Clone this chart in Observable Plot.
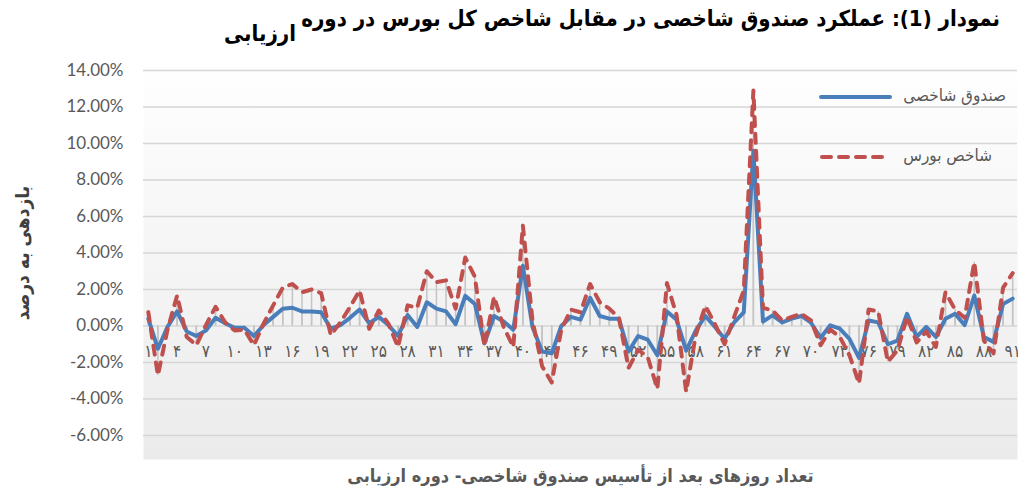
<!DOCTYPE html>
<html><head><meta charset="utf-8">
<script src="https://cdn.jsdelivr.net/npm/d3@7"></script>
<script src="https://cdn.jsdelivr.net/npm/@observablehq/plot@0.6"></script>
<style>
html,body{margin:0;padding:0;background:#fff;}
#wrap{position:relative;width:1018px;height:494px;overflow:hidden;}
.fa{font-family:"DejaVu Sans Condensed","DejaVu Sans",sans-serif;direction:rtl;position:absolute;white-space:nowrap;}
#t1{font-weight:bold;font-size:22px;color:#000;right:18px;top:6px;}
#t2{font-weight:bold;font-size:22px;color:#000;right:722px;top:21px;}
#chart{position:absolute;left:0;top:50px;}
.leg{font-size:17px;color:#595959;}
</style></head>
<body><div id="wrap">
<div id="t1" class="fa">نمودار (1): عملکرد صندوق شاخصی در مقابل شاخص کل بورس در دوره</div>
<div id="t2" class="fa">ارزیابی</div>
<div id="chart"></div>
<svg style="position:absolute;left:818px;top:90px" width="76" height="80">
<line x1="3" y1="7" x2="72" y2="7" stroke="#4a7ebb" stroke-width="4" stroke-linecap="round"/>
<line x1="4" y1="67" x2="72" y2="67" stroke="#c0504d" stroke-width="4" stroke-linecap="round" stroke-dasharray="9,8"/>
</svg>
<div class="fa leg" style="right:12px;top:85px;">صندوق شاخصی</div>
<div class="fa leg" style="right:26px;top:145px;">شاخص بورس</div>
</div>
<script>
const days = d3.range(1, 92);
const fund = [0.4,-1.25,-0.05,0.8,-0.3,-0.55,-0.25,0.45,0.15,-0.1,
-0.1,-0.55,0.05,0.5,0.95,1.0,0.8,0.8,0.75,-0.15,
0.05,0.45,0.9,0.15,0.5,0.05,-0.55,0.6,-0.05,1.3,
0.95,0.8,0.1,1.65,1.2,-0.95,0.55,0.25,-0.2,3.3,
-0.05,-1.4,-1.5,0.0,0.5,0.35,1.55,0.55,0.4,0.4,
-1.4,-0.55,-0.75,-1.6,0.8,0.35,-1.35,-0.25,0.55,-0.05,
-0.7,0.2,0.75,9.6,0.25,0.58,0.2,0.4,0.55,0.18,
-0.65,0.04,-0.15,-0.7,-1.75,0.3,0.2,-1.0,-0.8,0.67,
-0.6,-0.05,-0.6,0.4,0.67,0.05,1.67,-0.6,-0.87,1.2,1.5];
const bourse = [0.76,-2.7,-0.2,1.67,-0.6,-1.05,0.05,1.05,0.2,-0.25,
-0.2,-1.05,0.13,1.13,2.1,2.3,1.85,2.0,1.8,-0.5,
0.2,1.04,1.95,-0.15,0.85,0.13,-1.15,1.13,1.0,3.0,
2.4,2.5,0.95,3.75,2.7,-1.1,1.6,-0.05,-1.15,5.5,
0.3,-2.2,-3.1,-0.2,0.9,0.75,2.3,1.3,0.95,0.45,
-2.3,-1.3,-1.7,-3.45,2.35,0.6,-3.6,-0.5,1.1,0.1,
-1.0,0.5,1.95,12.9,1.0,0.85,0.3,0.5,0.67,0.3,
-1.05,-0.2,-0.6,-1.6,-3.15,0.9,0.8,-1.96,-1.33,0.5,
-0.9,-0.3,-1.15,1.85,0.9,0.45,3.5,-0.8,-1.5,2.1,2.9];
const tickDays = d3.range(1, 92, 3);
const tickLabels = ["۱","۴","۷","۱۰","۱۳","۱۶","۱۹","۲۲","۲۵","۲۸","۳۱","۳۴","۳۷","۴۰","۴۳","۴۶","۴۹","۵۲","۵۵","۵۸","۶۱","۶۴","۶۷","۷۰","۷۳","۷۶","۷۹","۸۲","۸۵","۸۸","۹۱"];
const yTicks = [-6,-4,-2,0,2,4,6,8,10,12,14];
const yTitle = "بازدهی به درصد";
const xTitle = "تعداد روزهای بعد از تأسیس صندوق شاخصی- دوره ارزیابی";

const rows = days.map((d, i) => ({day: d, fund: fund[i], bourse: bourse[i]}));
const faFont = '"DejaVu Sans Condensed","DejaVu Sans",sans-serif';

const defs = () => {
  const s = d3.create("svg:defs");
  const g = s.append("linearGradient").attr("id", "bg").attr("x1", 0).attr("x2", 0).attr("y1", 0).attr("y2", 1);
  g.append("stop").attr("offset", "0%").attr("stop-color", "#ffffff");
  g.append("stop").attr("offset", "100%").attr("stop-color", "#ebebeb");
  return s.node();
};

const plot = Plot.plot({
  width: 1018,
  height: 444,
  marginLeft: 143,
  marginRight: 1,
  marginTop: 20,
  marginBottom: 59,
  style: {fontFamily: "Lato, 'Open Sans', sans-serif", fontSize: "17px", color: "#595959", background: "transparent"},
  x: {type: "linear", domain: [0.5, 91.5], axis: null},
  y: {domain: [-6, 14], ticks: yTicks, tickFormat: d => d.toFixed(2) + "%", tickSize: 0, tickPadding: 20, label: null},
  marks: [
    defs,
    Plot.frame({fill: "url(#bg)", stroke: null, insetTop: -14, insetBottom: -24}),
    Plot.ruleY(yTicks, {stroke: "#d6d6d6", strokeWidth: 1.5}),
    Plot.ruleX(rows, {x: "day", y1: 0, y2: "bourse", stroke: "#c4c4c4", strokeWidth: 1.5}),
    Plot.ruleX(rows, {x: "day", y1: 0, y2: "fund", stroke: "#c4c4c4", strokeWidth: 1.5}),
    Plot.text(tickDays, {x: d => d, y: () => 0, text: (d, i) => tickLabels[i], dy: 26, fontSize: 17, fill: "#595959", fontFamily: faFont}),
    Plot.lineY(rows, {x: "day", y: "fund", stroke: "#4a7ebb", strokeWidth: 4, strokeLinejoin: "round"}),
    Plot.lineY(rows, {x: "day", y: "bourse", stroke: "#c0504d", strokeWidth: 4, strokeDasharray: "9,8", strokeLinecap: "round", strokeLinejoin: "round"}),
    Plot.text([yTitle], {frameAnchor: "left", textAnchor: "middle", rotate: -90, dx: -121, fontSize: 19, fontWeight: "bold", fill: "#404040", fontFamily: faFont}),
    Plot.text([xTitle], {frameAnchor: "bottom", textAnchor: "middle", dy: 46, fontSize: 18, fontWeight: "bold", fill: "#595959", fontFamily: faFont})
  ]
});
document.getElementById("chart").appendChild(plot);
</script>
</body></html>
